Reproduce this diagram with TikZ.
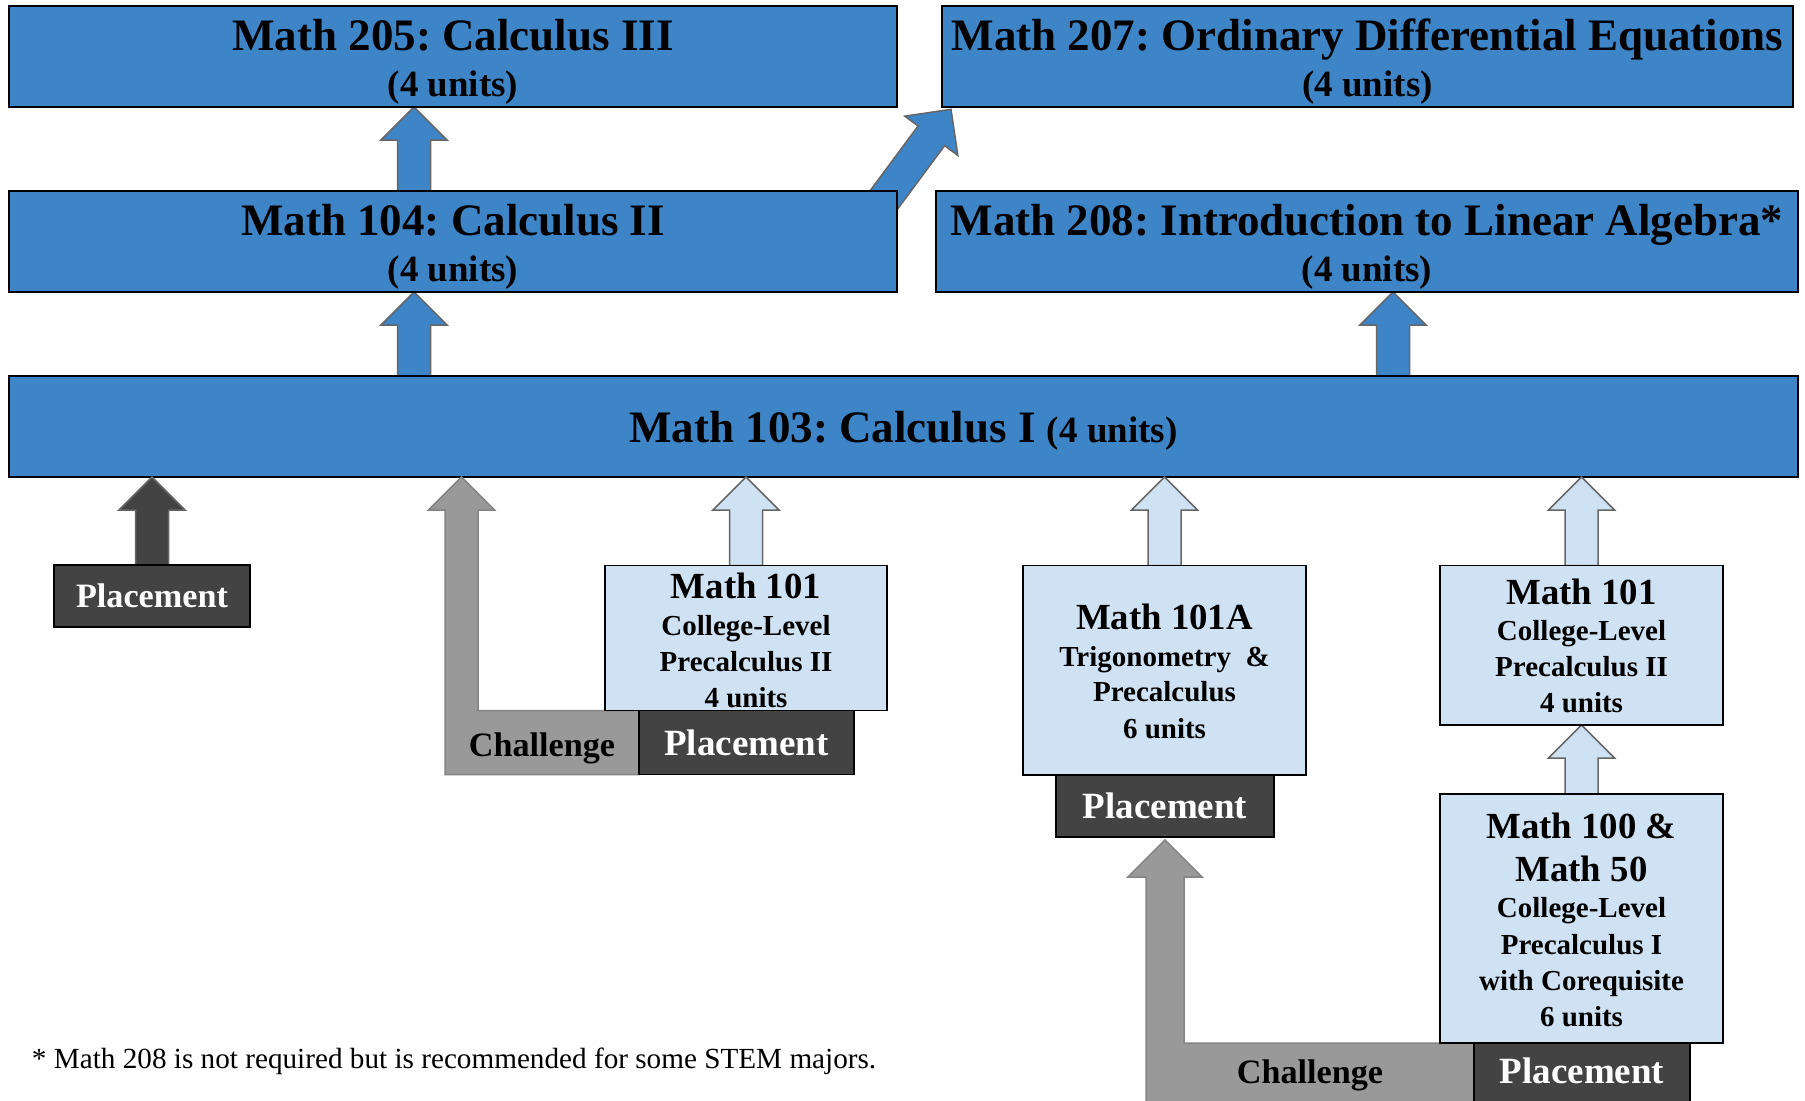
\documentclass[tikz,border=0pt]{standalone}
\usepackage{fontspec}
\setmainfont{Liberation Serif}
\usetikzlibrary{calc}
\frenchspacing
\definecolor{cblue}{HTML}{3D85C6}
\definecolor{clight}{HTML}{CFE2F3}
\definecolor{cdark}{HTML}{434343}
\definecolor{cgray}{HTML}{999999}
\definecolor{cedge}{HTML}{666666}
\newcommand\blockarrow[3]{%
  \coordinate (ba-h) at ($#3!16.5pt!#2$);
  \draw[#1] ($#2!8.25pt!90:#3$) -- ($(ba-h)!8.25pt!90:#3$) -- ($(ba-h)!16.5pt!90:#3$) -- #3
    -- ($(ba-h)!16.5pt!-90:#3$) -- ($(ba-h)!8.25pt!-90:#3$) -- ($#2!8.25pt!-90:#3$) -- cycle;}
\begin{document}
\begin{tikzpicture}[x=0.5pt,y=-0.5pt,
  box/.style={draw=black, line width=0.75pt, inner sep=0pt, outer sep=0pt, anchor=north west},
  bluebox/.style={box, fill=cblue},
  lightbox/.style={box, fill=clight},
  darkbox/.style={box, fill=cdark},
  txt/.style={anchor=base, inner sep=0pt, outer sep=0pt},
  ttl/.style={txt, font=\fontsize{22.5}{27}\selectfont\bfseries},
  unt/.style={txt, font=\fontsize{18.5}{22}\selectfont\bfseries},
  hdr/.style={txt, font=\fontsize{18.4}{22}\selectfont\bfseries},
  sub/.style={txt, font=\fontsize{14.5}{17}\selectfont\bfseries},
  plc/.style={txt, text=white, font=\fontsize{18.5}{22}\selectfont\bfseries},
  plcs/.style={txt, text=white, font=\fontsize{17.1}{20}\selectfont\bfseries},
  chl/.style={txt, font=\fontsize{17.1}{20}\selectfont\bfseries},
  bluearrow/.style={fill=cblue, draw=cedge, line width=0.75pt, line join=miter},
  lightarrow/.style={fill=clight, draw=cedge, line width=0.75pt, line join=miter},
  darkarrow/.style={fill=cdark, draw=cedge, line width=0.75pt, line join=miter},
  grayarrow/.style={fill=cgray, draw=cedge!80, line width=0.75pt, line join=miter}]
\useasboundingbox (0,0) rectangle (1805,1100);
\clip (0,0) rectangle (1805,1100);
\fill[white] (0,0) rectangle (1805,1100);

% ---- box nodes (geometry) ----
\path node[bluebox, draw=none, fill=none, minimum width=444pt, minimum height=50.5pt] (m205) at (9,6) {}
      node[bluebox, draw=none, fill=none, minimum width=425.5pt, minimum height=50.5pt] (m207) at (942,6) {}
      node[bluebox, draw=none, fill=none, minimum width=444pt, minimum height=50.5pt] (m104) at (9,191) {}
      node[bluebox, draw=none, fill=none, minimum width=431pt, minimum height=50.5pt] (m208) at (936,191) {}
      node[bluebox, draw=none, fill=none, minimum width=894.5pt, minimum height=50.5pt] (m103) at (9,376) {};
\coordinate (c1) at (414,0);
\coordinate (c2) at (1393,0);
\coordinate (dstart) at (871.6,216.4);
\coordinate (dtip) at (951,109.3);

% ---- blue arrows (behind boxes) ----
\blockarrow{bluearrow}{(m104.north -| c1)}{(m205.south -| c1)}
\blockarrow{bluearrow}{(m103.north -| c1)}{(m104.south -| c1)}
\blockarrow{bluearrow}{(m103.north -| c2)}{(m208.south -| c2)}
\blockarrow{bluearrow}{(dstart)}{(dtip)}

% ---- blue boxes ----
\node[bluebox, minimum width=444pt, minimum height=50.5pt] at (9,6) {};
\node[bluebox, minimum width=425.5pt, minimum height=50.5pt] at (942,6) {};
\node[bluebox, minimum width=444pt, minimum height=50.5pt] at (9,191) {};
\node[bluebox, minimum width=431pt, minimum height=50.5pt] at (936,191) {};
\node[bluebox, minimum width=894.5pt, minimum height=50.5pt] at (9,376) {};

% ---- lower nodes ----
\node[box, draw=none, minimum width=97pt, minimum height=32pt] (ch1) at (445,710.5) {};
\node[box, draw=none, minimum width=164pt, minimum height=33.5pt] (ch2) at (1146,1043) {};
\node[box, draw=none, minimum width=98pt, minimum height=31pt] (pl1g) at (54,565) {};
\node[box, draw=none, minimum width=141pt, minimum height=72.5pt] (m101Lg) at (605,565.5) {};
\node[box, draw=none, minimum width=141.5pt, minimum height=104.75pt] (m101Ag) at (1023,565.5) {};
\node[box, draw=none, minimum width=141.5pt, minimum height=79.75pt] (m101Rg) at (1440,565.5) {};
\node[box, draw=none, minimum width=141.5pt, minimum height=124.5pt] (m100g) at (1440,794) {};
\node[box, draw=none, minimum width=109pt, minimum height=31pt] (pl3g) at (1056,775) {};

% arrows into Math 103 and between lower boxes
\blockarrow{darkarrow}{(pl1g.north)}{(m103.south -| pl1g.north)}
\blockarrow{lightarrow}{(m101Lg.north)}{(m103.south -| m101Lg.north)}
\blockarrow{lightarrow}{(m101Ag.north)}{(m103.south -| m101Ag.north)}
\blockarrow{lightarrow}{(m101Rg.north)}{(m103.south -| m101Rg.north)}
\blockarrow{lightarrow}{(m100g.north)}{(m101Rg.south)}

% challenge L-arrows
\draw[grayarrow] (ch1.south west) -- ($(ch1.west |- m103.south)+(0,33)$) -- ++(-16.5,0)
  -- ($(ch1.west |- m103.south)+(16.5,0)$) -- ($(ch1.west |- m103.south)+(49.5,33)$) -- ++(-16.5,0)
  -- ($(ch1.north west)+(33,0)$) -- (ch1.north east) -- (ch1.south east) -- cycle;
\draw[grayarrow] (ch2.south west) -- ($(ch2.west |- pl3g.south)+(0,40)$) -- ++(-18,0)
  -- ($(ch2.west |- pl3g.south)+(19,3)$) -- ($(ch2.west |- pl3g.south)+(56,40)$) -- ++(-18,0)
  -- ($(ch2.north west)+(38,0)$) -- (ch2.north east) -- (ch2.south east) -- cycle;

% visible lower boxes
\node[darkbox, minimum width=98pt, minimum height=31pt] (pl1) at (54,565) {};
\node[lightbox, minimum width=141pt, minimum height=72.5pt] (m101L) at (605,565.5) {};
\node[darkbox, minimum width=107.5pt, minimum height=32pt] (pl2) at (639,710.5) {};
\node[lightbox, minimum width=141.5pt, minimum height=104.75pt] (m101A) at (1023,565.5) {};
\node[darkbox, minimum width=109pt, minimum height=31pt] (pl3) at (1056,775) {};
\node[lightbox, minimum width=141.5pt, minimum height=79.75pt] (m101R) at (1440,565.5) {};
\node[lightbox, minimum width=141.5pt, minimum height=124.5pt] (m100) at (1440,794) {};
\node[darkbox, minimum width=108pt, minimum height=33.5pt] (pl4) at (1474,1043) {};

% ---- texts ----
\node[ttl] (t205) at ($(m205.north)+(0,44.7)$) {Math 205: Calculus III};
\node[unt] (u205) at ($(m205.north)+(0,90.7)$) {(4 units)};
\node[ttl] (t207) at ($(m207.north)+(0,44.7)$) {Math 207: Ordinary Differential Equations};
\node[unt] (u207) at ($(m207.north)+(0,90.7)$) {(4 units)};
\node[ttl] (t104) at ($(m104.north)+(0,44.7)$) {Math 104: Calculus II};
\node[unt] (u104) at ($(m104.north)+(0,90.7)$) {(4 units)};
\node[ttl] (t208) at ($(m208.north)+(0,44.7)$) {Math 208: Introduction to Linear Algebra*};
\node[unt] (u208) at ($(m208.north)+(0,90.7)$) {(4 units)};
\node[ttl] (t103) at ($(m103.north)+(0,66.5)$) {Math 103: Calculus I {\fontsize{18.5}{22}\selectfont (4 units)}};

\node[plcs] (tp1) at ($(pl1.north)+(0,42.7)$) {Placement};
\node[plc] (tp2) at ($(pl2.north)+(0,45)$) {Placement};
\node[plc] (tp3) at ($(pl3.north)+(0,43.3)$) {Placement};
\node[plc] (tp4) at ($(pl4.north)+(0,40)$) {Placement};
\node[chl] (tc1) at ($(ch1.north)+(0,45.5)$) {Challenge};
\node[chl] (tc2) at ($(ch2.north)+(0,40)$) {Challenge};

\node[hdr] (h101L) at ($(m101L.north)+(0,33)$) {Math 101};
\node[sub] at ($(m101L.north)+(0,69.5)$) {College-Level};
\node[sub] at ($(m101L.north)+(0,105.5)$) {Precalculus II};
\node[sub] at ($(m101L.north)+(0,141.5)$) {4 units};

\node[hdr] (h101A) at ($(m101A.north)+(0,64)$) {Math 101A};
\node[sub] at ($(m101A.north)+(0,100.5)$) {Trigonometry \ \&};
\node[sub] at ($(m101A.north)+(0,136.2)$) {Precalculus};
\node[sub] at ($(m101A.north)+(0,172.8)$) {6 units};

\node[hdr] (h101R) at ($(m101R.north)+(0,38.5)$) {Math 101};
\node[sub] at ($(m101R.north)+(0,75.2)$) {College-Level};
\node[sub] at ($(m101R.north)+(0,111.2)$) {Precalculus II};
\node[sub] at ($(m101R.north)+(0,146.8)$) {4 units};

\node[hdr] (h100) at ($(m100.north)+(0,44.3)$) {Math 100 \&};
\node[hdr] at ($(m100.north)+(0,87.7)$) {Math 50};
\node[sub] at ($(m100.north)+(0,123.7)$) {College-Level};
\node[sub] at ($(m100.north)+(0,160)$) {Precalculus I};
\node[sub] at ($(m100.north)+(0,196)$) {with Corequisite};
\node[sub] at ($(m100.north)+(0,232)$) {6 units};

\node[anchor=base west, inner sep=0pt, font=\fontsize{14.6}{17}\selectfont] (note) at (31.6,1068)
  {* Math 208 is not required but is recommended for some STEM majors.};
\end{tikzpicture}
\end{document}
